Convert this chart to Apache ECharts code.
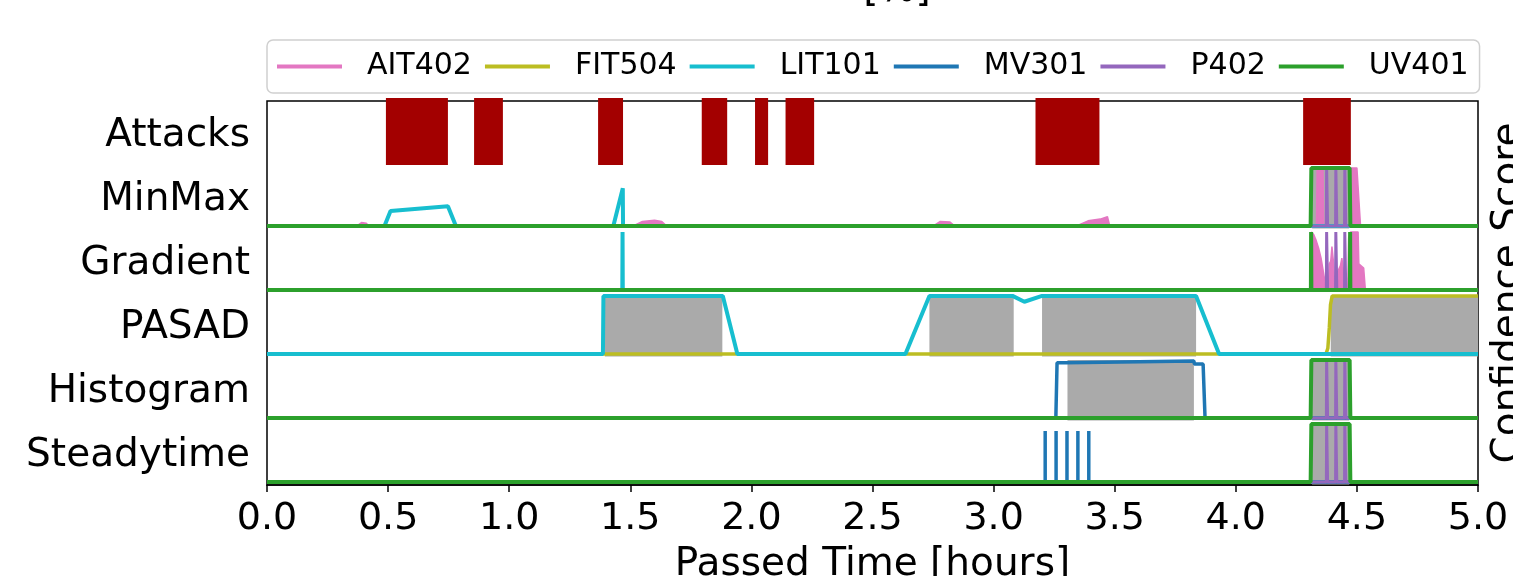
<!DOCTYPE html>
<html>
<head>
<meta charset="utf-8">
<script src="https://cdn.jsdelivr.net/npm/echarts@6/dist/echarts.min.js"></script>
<style>html,body{margin:0;padding:0;background:#fff}#c{width:1513px;height:576px}</style>
</head>
<body>
<div id="c"></div>
<script>
// ---------- data ----------
const rowNames = ['Steadytime', 'Histogram', 'PASAD', 'Gradient', 'MinMax', 'Attacks'];
const xTicks = [0, 0.5, 1, 1.5, 2, 2.5, 3, 3.5, 4, 4.5, 5];
const attackSpans = [[0.491,0.747],[0.855,0.974],[1.367,1.470],[1.795,1.900],[2.015,2.069],[2.141,2.259],[3.173,3.437],[4.278,4.475]];

const grayMinMax = [[4.315,4.468]];
const grayPASAD = [[1.395,1.880],[2.735,3.083],[3.200,3.836],[4.392,5.0]];
const grayHistogram = [[3.305,3.827],[4.315,4.468]];
const graySteadytime = [[4.315,4.468]];

const ait402MinMax = [[0,0],[0.37,0],[0.39,0.06],[0.41,0.05],[0.42,0],[1.51,0],[1.55,0.08],[1.60,0.10],[1.63,0.08],[1.65,0],[2.75,0],[2.78,0.08],[2.82,0.07],[2.84,0],[3.34,0],[3.39,0.09],[3.44,0.12],[3.47,0.16],[3.48,0],[4.333,0],[4.336,1],[4.360,1],[4.363,0],[4.468,0],[4.470,1],[4.500,1],[4.515,0],[5,0]];
const ait402Gradient = [[0,0],[4.308,0],[4.312,1],[4.322,0.95],[4.332,0.85],[4.342,0.72],[4.352,0.55],[4.360,0.35],[4.366,0.2],[4.372,0],[4.382,0],[4.386,0.45],[4.392,0.5],[4.397,0.75],[4.404,0.45],[4.409,0],[4.420,0],[4.424,0.35],[4.432,0.42],[4.438,0.55],[4.445,0.3],[4.449,0],[4.462,0],[4.466,0.9],[4.474,1],[4.505,1],[4.508,0.45],[4.528,0.38],[4.535,0],[5,0]];

const fit504PASAD = [[0,0],[4.372,0],[4.380,0.1],[4.386,0.45],[4.391,0.85],[4.398,1],[5,1]];

const lit101MinMax = [[0,0],[0.485,0],[0.510,0.26],[0.747,0.34],[0.780,0],[1.430,0],[1.469,0.65],[1.470,0],[5,0]];
const lit101Gradient = [[0,0],[1.467,0],[1.468,1],[1.469,0],[5,0]];
const lit101PASAD = [[0,0],[1.387,0],[1.389,1],[1.882,1],[1.942,0],[2.636,0],[2.735,1],[3.078,1],[3.127,0.9],[3.200,1],[3.836,1],[3.931,0],[5,0]];

const mv301Histogram = [[0,0],[3.257,0],[3.262,0.95],[3.300,0.95],[3.302,0.98],[3.827,0.98],[3.829,0.93],[3.865,0.93],[3.873,0],[5,0]];
const mv301Steadytime = [[0,0],[3.213,0],[3.213,0.88],[3.213,0],[3.258,0],[3.258,0.88],[3.258,0],[3.303,0],[3.303,0.88],[3.303,0],[3.348,0],[3.348,0.88],[3.348,0],[3.393,0],[3.393,0.88],[3.393,0],[5,0]];

const p402 = [[0,0],[4.374,0],[4.375,1],[4.378,1],[4.379,0],[4.412,0],[4.413,1],[4.416,1],[4.417,0],[4.449,0],[4.450,1],[4.453,1],[4.454,0],[5,0]];

const uv401Pulse = [[0,0],[4.309,0],[4.312,1],[4.470,1],[4.473,0],[5,0]];
const uv401Gradient = [[0,0],[4.310,0],[4.311,1],[4.312,0],[4.471,0],[4.472,1],[4.473,0],[5,0]];

// ---------- layout helpers ----------
const ROW = 1.1;
const off = name => rowNames.indexOf(name) * ROW;
const colors = {AIT402:'#e377c2', FIT504:'#bcbd22', LIT101:'#17becf', MV301:'#1f77b4', P402:'#9467bd', UV401:'#2ca02c'};
const widths = {AIT402:1.5, FIT504:3.5, LIT101:4, MV301:3.5, P402:3, UV401:4};
const FONT = 'DejaVu Sans';

function lineSeries(sensor, row, data, area) {
  const o = off(row);
  const s = {
    type: 'line', name: sensor, data: data.map(p => [p[0], p[1] + o]),
    showSymbol: false, symbol: 'none', animation: false, z: 3,
    lineStyle: {color: colors[sensor], width: widths[sensor]},
    itemStyle: {color: colors[sensor]}
  };
  if (area) s.areaStyle = {color: colors[sensor], opacity: 1, origin: o};
  return s;
}

function rectSeries(name, spans, y0, y1, color) {
  return {
    type: 'custom', name: name, animation: false, z: 1,
    data: spans.map(s => [s[0], s[1], y0, y1]),
    renderItem: (params, api) => {
      const p0 = api.coord([api.value(0), api.value(3)]);
      const p1 = api.coord([api.value(1), api.value(2)]);
      return {type: 'rect', shape: {x: p0[0], y: p0[1], width: p1[0]-p0[0], height: p1[1]-p0[1]},
        style: {fill: color}};
    }
  };
}

const series = [
  rectSeries('attacks', attackSpans, off('Attacks') - 0.05, 6.6, '#a30000'),
  rectSeries('g1', grayMinMax, off('MinMax') - 0.04, off('MinMax') + 1, '#aaaaaa'),
  rectSeries('g2', grayPASAD, off('PASAD') - 0.04, off('PASAD') + 1, '#aaaaaa'),
  rectSeries('g3', grayHistogram, off('Histogram') - 0.04, off('Histogram') + 1, '#aaaaaa'),
  rectSeries('g4', graySteadytime, off('Steadytime') - 0.04, off('Steadytime') + 1, '#aaaaaa'),
  lineSeries('AIT402', 'MinMax', ait402MinMax, true),
  lineSeries('AIT402', 'Gradient', ait402Gradient, true),
  lineSeries('FIT504', 'PASAD', fit504PASAD),
  lineSeries('LIT101', 'MinMax', lit101MinMax),
  lineSeries('LIT101', 'Gradient', lit101Gradient),
  lineSeries('LIT101', 'PASAD', lit101PASAD),
  lineSeries('MV301', 'Histogram', mv301Histogram),
  lineSeries('MV301', 'Steadytime', mv301Steadytime),
  lineSeries('P402', 'MinMax', p402),
  lineSeries('P402', 'Gradient', p402),
  lineSeries('P402', 'Histogram', p402),
  lineSeries('P402', 'Steadytime', p402),
  lineSeries('UV401', 'MinMax', uv401Pulse),
  lineSeries('UV401', 'Gradient', uv401Gradient),
  lineSeries('UV401', 'Histogram', uv401Pulse),
  lineSeries('UV401', 'Steadytime', uv401Pulse)
];

const chart = echarts.init(document.getElementById('c'), null, {renderer: 'canvas'});
chart.setOption({
  animation: false,
  backgroundColor: '#fff',
  textStyle: {fontFamily: FONT},
  grid: [
    {left: 267, right: 35, top: 101, bottom: 91, show: true, borderColor: '#000', borderWidth: 1.5,
     backgroundColor: 'transparent', containLabel: false, outerBoundsMode: 'none'},
    {left: 267, right: 35, top: 104, bottom: 88, show: false, containLabel: false, outerBoundsMode: 'none'}
  ],
  legend: {
    data: ['AIT402','FIT504','LIT101','MV301','P402','UV401'],
    left: 267, top: 40, icon: 'rect', itemWidth: 65, itemHeight: 4, itemGap: 13,
    padding: [10, 11, 10, 10], borderColor: '#d0d0d0', borderWidth: 1.5, borderRadius: 6,
    textStyle: {fontSize: 30, color: '#000', fontFamily: FONT, padding: [0, 0, 0, 20], lineHeight: 33}
  },
  xAxis: [{
    type: 'value', min: 0, max: 5, interval: 0.5, gridIndex: 0,
    axisLine: {show: true, onZero: false, lineStyle: {color: '#000', width: 1.5}},
    axisTick: {show: true, length: 7, lineStyle: {color: '#000', width: 1.5}},
    axisLabel: {fontSize: 38, color: '#000', fontFamily: FONT, margin: 15, formatter: v => v.toFixed(1)},
    splitLine: {show: false},
    name: 'Passed Time [hours]', nameLocation: 'middle', nameGap: 60,
    nameTextStyle: {fontSize: 39, color: '#000', fontFamily: FONT, verticalAlign: 'top'}
  }, {
    type: 'value', min: 0, max: 5, gridIndex: 1, show: false
  }],
  yAxis: [
    {type: 'value', min: -0.05, max: 6.55, show: false, gridIndex: 0},
    {type: 'category', data: rowNames, position: 'left', gridIndex: 1,
     axisLine: {show: false}, axisTick: {show: false}, splitLine: {show: false},
     axisLabel: {fontSize: 39, color: '#000', fontFamily: FONT, margin: 17}}
  ],
  graphic: [
    {type: 'text', x: 1509, y: 293, rotation: Math.PI / 2,
     style: {text: 'Confidence Score', fontSize: 39, fontFamily: FONT, fill: '#000', align: 'center', verticalAlign: 'middle'}},
    {type: 'text', x: 897, y: 10,
     style: {text: '[%]', fontSize: 39, fontFamily: FONT, fill: '#000', align: 'center', verticalAlign: 'bottom'}}
  ],
  series: series
});
</script>
</body>
</html>
